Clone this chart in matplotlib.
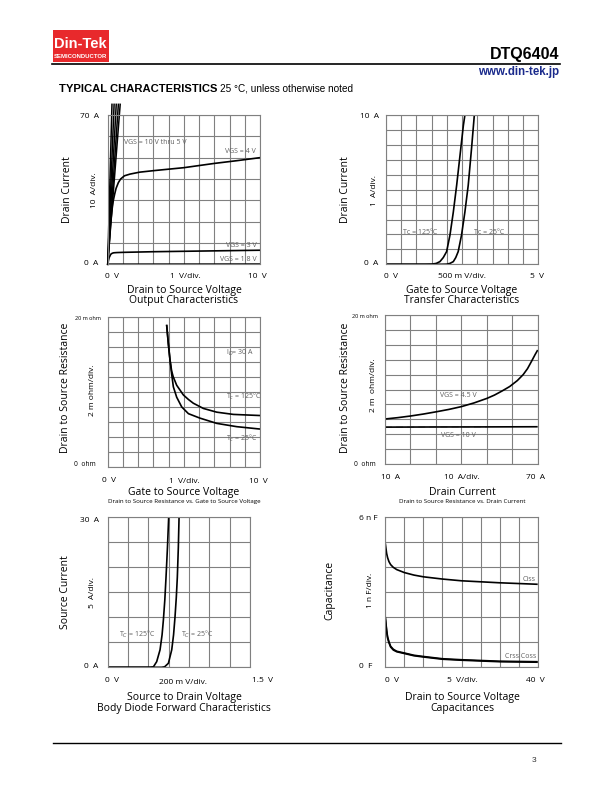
import matplotlib
matplotlib.use("Agg")
import matplotlib.pyplot as plt
from matplotlib.patches import Rectangle
import numpy as np

W, H = 612, 792

# Output characteristics (Vds in V, Id in A)
vds_4v = [0, 0.1, 0.2, 0.3, 0.37, 0.46, 0.55, 0.7, 0.85, 1.1, 1.47, 2.1, 3.0, 5.0, 7.0, 8.5, 10.0]
id_4v = [0, 10, 20, 26.5, 30, 33, 35.6, 38.3, 40, 41.5, 42.3, 43.2, 43.9, 45.3, 47.3, 48.6, 50.0]
vds_3v = [0, 0.05, 0.1, 0.2, 0.3, 0.4, 0.6, 1.0, 3.0, 6.0, 10.0]
id_3v = [0, 1.8, 3.2, 4.7, 5.2, 5.4, 5.5, 5.6, 5.9, 6.2, 6.6]
vds_18v = [0, 10.0]
id_18v = [0.05, 0.1]
vds_hi_end = [0.28, 0.42, 0.56, 0.70, 0.82]   # VGS = 10 V thru 5 V reach 75 A here
id_hi_end = 75

# Transfer characteristics (Vgs in V, Id in A)
vgs_125 = [0, 1.3, 1.5, 1.65, 1.77, 1.88, 1.99, 2.1, 2.21, 2.32, 2.43, 2.54, 2.59]
id_125 = [0, 0, 0.01, 0.06, 0.18, 0.45, 0.85, 1.96, 3.5, 5.3, 7.3, 9.3, 10.0]
vgs_25 = [0, 1.8, 1.99, 2.1, 2.21, 2.29, 2.37, 2.48, 2.59, 2.7, 2.81, 2.9]
id_25 = [0, 0, 0.01, 0.06, 0.18, 0.45, 0.85, 1.96, 3.5, 5.3, 7.8, 10.0]

# Rds(on) vs Vgs (Vgs in V, Rds in mOhm)
vgs_r125 = [3.87, 3.98, 4.09, 4.2, 4.3, 4.53, 4.97, 5.3, 5.62, 6.28, 7.16, 8.25, 10.0]
rds_r125 = [19.0, 16.5, 14.3, 12.8, 12.05, 10.9, 9.6, 9.0, 8.5, 7.8, 7.3, 7.0, 6.85]
vgs_r25 = [3.87, 3.98, 4.09, 4.2, 4.31, 4.53, 4.86, 5.3, 6.06, 7.16, 8.47, 10.0]
rds_r25 = [19.0, 16.5, 14.3, 12.4, 10.7, 9.3, 8.0, 7.1, 6.5, 5.8, 5.36, 5.04]

# Rds(on) vs Id (Id in A, Rds in mOhm)
id_45 = [10, 15, 20, 25, 30, 35, 40, 45, 50, 53, 56, 59, 62, 64.3, 66, 67.6, 69, 70]
rds_45 = [6.04, 6.22, 6.44, 6.7, 7.0, 7.32, 7.7, 8.2, 8.8, 9.25, 9.8, 10.4, 11.2, 12.0, 12.8, 13.8, 14.7, 15.3]
id_10 = [10, 30, 50, 70]
rds_10 = [4.95, 4.97, 4.98, 5.0]

# Body diode (Vsd in V, Is in A)
vsd_125 = [0, 0.42, 0.45, 0.482, 0.515, 0.535, 0.548, 0.562, 0.574, 0.588, 0.6]
is_125 = [0, 0, 0.1, 1.13, 3.5, 6.5, 9.5, 13.5, 18.1, 24.0, 30.0]
vsd_25 = [0, 0.53, 0.56, 0.597, 0.63, 0.648, 0.662, 0.675, 0.685, 0.695, 0.702]
is_25 = [0, 0, 0.1, 0.8, 3.5, 6.5, 10.0, 14.0, 18.0, 24.0, 30.0]

# Capacitances (Vds in V, C in nF)
vds_c = [0, 0.35, 0.6, 0.96, 1.4, 2.1, 3.0, 5.0, 7.5, 10, 15, 20, 25, 30, 35, 40]
ciss = [4.95, 4.55, 4.38, 4.22, 4.1, 3.99, 3.9, 3.78, 3.68, 3.61, 3.52, 3.45, 3.41, 3.37, 3.34, 3.31]
coss = [2.0, 1.47, 1.2, 1.0, 0.82, 0.7, 0.62, 0.55, 0.46, 0.41, 0.32, 0.28, 0.25, 0.22, 0.21, 0.2]
crss = [1.95, 1.42, 1.15, 0.96, 0.79, 0.67, 0.6, 0.53, 0.44, 0.39, 0.3, 0.26, 0.23, 0.2, 0.19, 0.18]

FONT = "Open Sans"
GRID = "#808080"
LBL = "#606060"
TICK = 6.0
BIG = 7.5

fig = plt.figure(figsize=(W / 100, H / 100), dpi=100)


def px(x, y):
    return x / W, 1 - y / H


def txt(x, y, s, size=TICK, ha="center", va="center", **kw):
    kw.setdefault("family", FONT)
    fig.text(*px(x, y), s, fontsize=size, ha=ha, va=va, **kw)


def panel(l, t, r, b, xlim, xstep, ylim, ystep):
    ax = fig.add_axes([l / W, 1 - b / H, (r - l) / W, (b - t) / H])
    ax.set_xlim(*xlim)
    ax.set_ylim(*ylim)
    ax.set_xticks(np.arange(xlim[0], xlim[1] + xstep / 2, xstep))
    ax.set_yticks(np.arange(ylim[0], ylim[1] + ystep / 2, ystep))
    ax.grid(True, color=GRID, linewidth=0.8)
    ax.tick_params(length=0, labelbottom=False, labelleft=False)
    for s in ax.spines.values():
        s.set_color(GRID)
        s.set_linewidth(0.8)
    return ax


def curve(ax, x, y, **kw):
    ax.plot(x, y, color="black", linewidth=1.2, solid_capstyle="butt", **kw)


def small(ax, x, y, s, ha="center", size=5.0):
    ax.text(x, y, s, fontsize=size, ha=ha, va="center", color=LBL, family=FONT)


# ---------------- header ----------------
fig.patches.append(Rectangle(px(52.5, 62), 56.5 / W, 32 / H, transform=fig.transFigure,
                             facecolor="#e8292c", edgecolor="none"))
txt(80.5, 43.5, "Din-Tek", size=10.5, color="white", weight="bold", family="Liberation Sans")
txt(80.5, 57, "SEMICONDUCTOR", size=4.3, color="white", weight="bold", family="Liberation Sans")
fig.add_artist(plt.Line2D([52 / W, 560 / W], [1 - 64 / H, 1 - 64 / H], color="black", linewidth=1.2))
txt(559, 54, "DTQ6404", size=11.5, ha="right", weight="bold", family="Liberation Sans")
txt(559, 72.5, "www.din-tek.jp", size=8.3, ha="right", weight="bold", color="#1a2a8c", family="Liberation Sans")
txt(59, 88.5, "TYPICAL CHARACTERISTICS", size=8.1, ha="left", weight="bold", family="Liberation Sans")
txt(220, 88.5, "25 °C, unless otherwise noted", size=7.2, ha="left", family="Liberation Sans")

# footer
fig.add_artist(plt.Line2D([53 / W, 561 / W], [1 - 743 / H, 1 - 743 / H], color="black", linewidth=1.0))
txt(534, 761, "3", size=6.0, family="Liberation Sans", color="#333333")

# ---------------- panel 1: output characteristics ----------------
ax = panel(107.7, 115, 260, 264.3, (0, 10), 1, (0, 70), 10)
for xe in vds_hi_end:
    ax.plot([0, xe], [0, id_hi_end], color="black", linewidth=1.1, clip_on=False)
curve(ax, vds_4v, id_4v)
curve(ax, vds_3v, id_3v)
curve(ax, vds_18v, id_18v)
small(ax, 1.1, 57, "VGS = 10 V thru 5 V", ha="left")
small(ax, 9.75, 53, "VGS = 4 V", ha="right")
small(ax, 9.75, 9.0, "VGS = 3 V", ha="right")
small(ax, 9.75, 2.4, "VGS = 1.8 V", ha="right")
txt(89, 117, "70  A")
txt(91, 264, "0  A")
txt(112, 277, "0  V")
txt(185, 277, "1  V/div.")
txt(257, 277, "10  V")
txt(94, 190, "10  A/div.", rotation=90)
txt(67, 190, "Drain Current", size=BIG, rotation=90)
txt(184, 290.5, "Drain to Source Voltage", size=BIG)
txt(184, 300.5, "Output Characteristics", size=BIG)

# ---------------- panel 2: transfer characteristics ----------------
ax = panel(386, 115, 538.3, 264.3, (0, 5), 0.5, (0, 10), 1)
curve(ax, vgs_125, id_125)
curve(ax, vgs_25, id_25)
small(ax, 1.12, 2.1, "Tc = 125°C")
small(ax, 3.4, 2.1, "Tc = 25°C")
txt(369, 117, "10  A")
txt(371, 264, "0  A")
txt(391, 277, "0  V")
txt(462, 277, "500 m V/div.")
txt(537, 277, "5  V")
txt(374, 190, "1  A/div.", rotation=90)
txt(345, 190, "Drain Current", size=BIG, rotation=90)
txt(462, 290.5, "Gate to Source Voltage", size=BIG)
txt(462, 300.5, "Transfer Characteristics", size=BIG)

# ---------------- panel 3: Rds vs Vgs ----------------
ax = panel(107.7, 317.3, 260, 466.7, (0, 10), 1, (0, 20), 2)
curve(ax, vgs_r125, rds_r125)
curve(ax, vgs_r25, rds_r25)
small(ax, 7.77, 15.2, "I$_D$= 30 A", ha="left")
small(ax, 7.75, 9.4, "T$_c$ = 125°C", ha="left")
small(ax, 7.8, 3.8, "T$_c$ = 25°C", ha="left")
txt(88, 318, "20 m ohm", size=4.0)
txt(85, 465, "0  ohm", size=4.8)
txt(109, 480, "0  V")
txt(184, 481, "1  V/div.")
txt(258, 481, "10  V")
txt(93, 390, "2 m ohm/div.", rotation=90)
txt(66, 388, "Drain to Source Resistance", size=BIG, rotation=90)
txt(184, 492.5, "Gate to Source Voltage", size=BIG)
txt(184, 501.5, "Drain to Source Resistance vs. Gate to Source Voltage", size=4.4)

# ---------------- panel 4: Rds vs Id ----------------
ax = panel(385, 315, 537.7, 464, (10, 70), 10, (0, 20), 2)
ax.plot(id_10[:3], rds_10[:3], color="#b0b0b0", linewidth=1.0, dashes=(5, 3))
curve(ax, id_45, rds_45)
curve(ax, id_10, rds_10)
small(ax, 39, 9.2, "VGS = 4.5 V")
small(ax, 39, 3.76, "VGS = 10 V")
txt(365, 316, "20 m ohm", size=4.0)
txt(365, 464, "0  ohm", size=4.8)
txt(391, 478, "10  A")
txt(462, 478, "10  A/div.")
txt(535, 478, "70  A")
txt(373, 385, "2 m  ohm/div.", rotation=90)
txt(345, 388, "Drain to Source Resistance", size=BIG, rotation=90)
txt(462, 492.5, "Drain Current", size=BIG)
txt(462, 501.5, "Drain to Source Resistance vs. Drain Current", size=4.4)

# ---------------- panel 5: body diode ----------------
ax = panel(107.7, 517.3, 250, 667.3, (0, 1.4), 0.2, (0, 30), 5)
curve(ax, vsd_125, is_125)
curve(ax, vsd_25, is_25)
small(ax, 0.29, 6.67, "T$_C$ = 125°C")
small(ax, 0.88, 6.67, "T$_C$ = 25°C")
txt(90, 520, "30  A")
txt(91, 667, "0  A")
txt(112, 681, "0  V")
txt(183, 682, "200 m V/div.")
txt(262, 681, "1.5  V")
txt(93, 592, "5  A/div.", rotation=90)
txt(65, 592, "Source Current", size=BIG, rotation=90)
txt(184, 697.5, "Source to Drain Voltage", size=BIG)
txt(184, 708, "Body Diode Forward Characteristics", size=BIG)

# ---------------- panel 6: capacitances ----------------
ax = panel(385.3, 517.3, 537.7, 666.7, (0, 40), 5, (0, 6), 1)
curve(ax, vds_c, ciss)
curve(ax, vds_c, coss)
curve(ax, vds_c, crss)
small(ax, 39.5, 3.5, "Ciss", ha="right")
small(ax, 39.5, 0.42, "Crss Coss", ha="right")
txt(368, 519, "6 n F")
txt(366, 666, "0  F")
txt(392, 681, "0  V")
txt(462, 681, "5  V/div.")
txt(535, 681, "40  V")
txt(371, 590, "1 n F/div.", rotation=90)
txt(330, 590, "Capacitance", size=BIG, rotation=90)
txt(462, 697.5, "Drain to Source Voltage", size=BIG)
txt(462, 708, "Capacitances", size=BIG)

fig.savefig("out.png", dpi=100)
